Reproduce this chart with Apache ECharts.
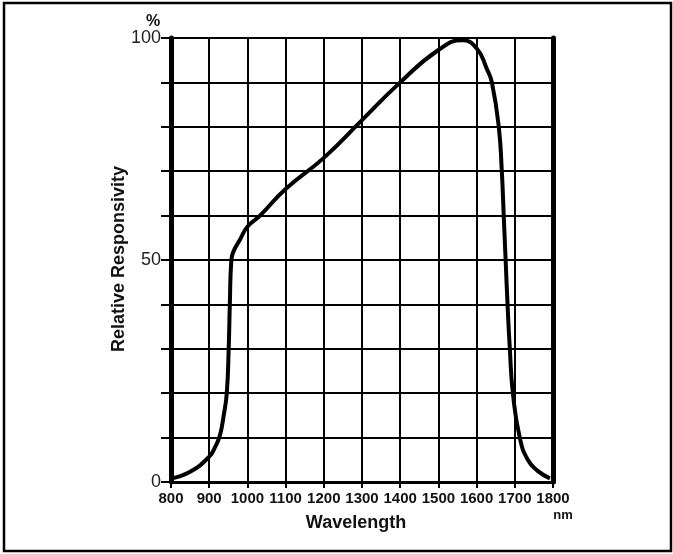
<!DOCTYPE html>
<html>
<head>
<meta charset="utf-8">
<script src="https://cdn.jsdelivr.net/npm/echarts@6/dist/echarts.min.js"></script>
<style>
  html, body { margin: 0; padding: 0; background: #fff; }
  #chart { width: 673px; height: 554px; }
</style>
</head>
<body>
<div id="chart"></div>
<script>
// values
var wavelengthNm = [800, 850, 900, 915, 928, 938, 946, 951, 954, 958, 964, 980, 1000, 1033, 1100, 1200, 1300, 1400, 1500, 1562, 1600, 1627, 1640, 1658, 1666, 1671, 1676, 1681, 1687, 1695, 1713, 1734, 1760, 1792];
var responsivityPct = [0.8, 2.3, 5.7, 7.8, 10.5, 15, 20, 30, 40, 50, 52, 54.5, 57.5, 60, 66, 73, 81.5, 90, 97.3, 99.5, 97.7, 93, 90, 80, 70, 60, 50, 40, 30, 20, 10, 5, 2.5, 0.8];
var yTickLabels = [0, 50, 100];

var font = "'Liberation Sans', Arial, sans-serif";

var curve = wavelengthNm.map(function(x, i) {
  return [x, responsivityPct[i]];
});

var myChart = echarts.init(document.getElementById('chart'));

option = {
  animation: false,
  grid: {
    left: 171,
    right: 120,
    top: 38,
    bottom: 72
  },
  xAxis: [{
    type: 'value',
    min: 800,
    max: 1800,
    interval: 100,
    axisLine: { lineStyle: { color: '#000', width: 2 } },
    axisTick: { show: true, length: 6, lineStyle: { color: '#000', width: 2 } },
    axisLabel: {
      margin: 9,
      color: '#111',
      fontFamily: font,
      fontWeight: 'bold',
      fontSize: 15,
      formatter: function(v) { return String(v); }
    },
    splitLine: { show: true, lineStyle: { color: '#000', width: 2 } }
  }, {
    type: 'value',
    position: 'top',
    min: 800,
    max: 1800,
    axisLine: { show: true, lineStyle: { color: '#000', width: 3 } },
    axisTick: { show: false },
    axisLabel: { show: false },
    splitLine: { show: false }
  }],
  yAxis: [{
    type: 'value',
    min: 0,
    max: 100,
    interval: 10,
    axisLine: { show: true, lineStyle: { color: '#000', width: 5 } },
    axisTick: { show: true, length: 10, lineStyle: { color: '#000', width: 2 } },
    axisLabel: {
      margin: 10,
      color: '#222',
      fontFamily: font,
      fontSize: 18,
      formatter: function(v) {
        return yTickLabels.indexOf(v) >= 0 ? String(v) : '';
      }
    },
    splitLine: { show: true, lineStyle: { color: '#000', width: 2 } }
  }, {
    type: 'value',
    position: 'right',
    min: 0,
    max: 100,
    axisLine: { show: true, lineStyle: { color: '#000', width: 5 } },
    axisTick: { show: false },
    axisLabel: { show: false },
    splitLine: { show: false }
  }],
  graphic: [{
    type: 'rect',
    shape: { x: 4, y: 3, width: 667, height: 548 },
    style: { fill: 'none', stroke: '#000', lineWidth: 2.5 },
    silent: true
  }, {
    type: 'text',
    x: 153,
    y: 22,
    style: {
      text: '%',
      font: 'bold 16px ' + font,
      fill: '#111',
      align: 'center',
      verticalAlign: 'middle'
    }
  }, {
    type: 'text',
    x: 119,
    y: 259,
    rotation: Math.PI / 2,
    style: {
      text: 'Relative Responsivity',
      font: 'bold 18px ' + font,
      fill: '#111',
      align: 'center',
      verticalAlign: 'middle'
    }
  }, {
    type: 'text',
    x: 356,
    y: 523,
    style: {
      text: 'Wavelength',
      font: 'bold 18px ' + font,
      fill: '#111',
      align: 'center',
      verticalAlign: 'middle'
    }
  }, {
    type: 'text',
    x: 563,
    y: 515,
    style: {
      text: 'nm',
      font: 'bold 13px ' + font,
      fill: '#111',
      align: 'center',
      verticalAlign: 'middle'
    }
  }],
  series: [{
    type: 'line',
    data: curve,
    smooth: 0.5,
    showSymbol: false,
    lineStyle: { color: '#000', width: 4 },
    z: 5
  }]
};
myChart.setOption(option);
</script>
</body>
</html>
